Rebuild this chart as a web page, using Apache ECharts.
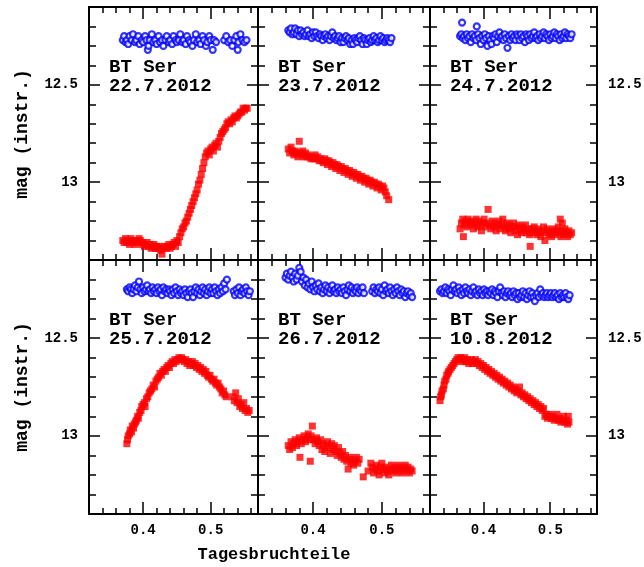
<!DOCTYPE html>
<html>
<head>
<meta charset="utf-8">
<script src="https://cdn.jsdelivr.net/npm/echarts@6/dist/echarts.min.js"></script>
<style>
html, body { margin: 0; padding: 0; background: #fff; }
#main { width: 644px; height: 567px; }
</style>
</head>
<body>
<div id="main"></div>
<script>
// Nächte
const dates = ['22.7.2012', '23.7.2012', '24.7.2012', '25.7.2012', '26.7.2012', '10.8.2012'];

// Achsen
const xRange = [0.32, 0.57];
const yRange = [12.1, 13.4];
const xMajor = [0.4, 0.5];
const xMinor = [0.34, 0.36, 0.38, 0.42, 0.44, 0.46, 0.48, 0.52, 0.54, 0.56];
const yMajor = [12.5, 13];
const yMinor = [12.2, 12.3, 12.4, 12.6, 12.7, 12.8, 12.9, 13.1, 13.2, 13.3];

// Vergleichsstern (blau) und BT Ser (rot): [Tagesbruchteil, mag]
const blue1 = [[0.370,12.27],[0.372,12.25],[0.374,12.28],[0.376,12.27],[0.378,12.29],[0.380,12.25],[0.383,12.27],[0.385,12.24],[0.388,12.28],[0.390,12.27],[0.393,12.25],[0.395,12.29],[0.398,12.27],[0.400,12.28],[0.403,12.25],[0.405,12.27],[0.407,12.32],[0.408,12.30],[0.410,12.27],[0.413,12.24],[0.415,12.28],[0.418,12.27],[0.420,12.29],[0.423,12.25],[0.425,12.28],[0.428,12.27],[0.430,12.30],[0.433,12.27],[0.435,12.25],[0.438,12.28],[0.440,12.27],[0.443,12.29],[0.445,12.25],[0.448,12.27],[0.450,12.28],[0.453,12.27],[0.455,12.24],[0.458,12.28],[0.460,12.27],[0.463,12.29],[0.465,12.25],[0.468,12.27],[0.470,12.28],[0.473,12.30],[0.475,12.27],[0.478,12.24],[0.480,12.28],[0.483,12.27],[0.485,12.29],[0.488,12.25],[0.490,12.27],[0.493,12.30],[0.495,12.28],[0.498,12.25],[0.500,12.27],[0.503,12.32],[0.505,12.27],[0.508,12.28],[0.520,12.27],[0.523,12.25],[0.526,12.28],[0.529,12.27],[0.532,12.30],[0.535,12.27],[0.538,12.25],[0.540,12.32],[0.541,12.28],[0.544,12.24],[0.547,12.27],[0.550,12.28],[0.553,12.27]];
const red1 = [[0.370,13.30],[0.372,13.31],[0.374,13.29],[0.376,13.31],[0.378,13.30],[0.380,13.32],[0.382,13.29],[0.384,13.31],[0.386,13.30],[0.388,13.32],[0.390,13.30],[0.392,13.31],[0.394,13.29],[0.396,13.30],[0.398,13.32],[0.400,13.31],[0.402,13.33],[0.404,13.32],[0.406,13.31],[0.408,13.33],[0.410,13.32],[0.412,13.34],[0.414,13.33],[0.416,13.32],[0.418,13.34],[0.420,13.33],[0.422,13.34],[0.424,13.33],[0.426,13.35],[0.428,13.37],[0.430,13.34],[0.432,13.33],[0.434,13.34],[0.436,13.33],[0.438,13.32],[0.440,13.34],[0.442,13.33],[0.444,13.32],[0.446,13.31],[0.448,13.33],[0.450,13.30],[0.452,13.31],[0.454,13.28],[0.456,13.26],[0.458,13.24],[0.460,13.23],[0.462,13.21],[0.464,13.20],[0.466,13.18],[0.468,13.16],[0.470,13.14],[0.472,13.12],[0.474,13.10],[0.476,13.08],[0.478,13.06],[0.480,13.04],[0.482,13.01],[0.484,12.99],[0.486,12.96],[0.488,12.93],[0.490,12.90],[0.492,12.87],[0.494,12.85],[0.496,12.84],[0.498,12.86],[0.500,12.83],[0.502,12.82],[0.504,12.84],[0.506,12.81],[0.508,12.80],[0.510,12.82],[0.512,12.79],[0.514,12.77],[0.516,12.75],[0.518,12.74],[0.520,12.73],[0.522,12.72],[0.524,12.70],[0.526,12.69],[0.528,12.70],[0.530,12.68],[0.532,12.69],[0.534,12.67],[0.536,12.66],[0.538,12.67],[0.540,12.66],[0.542,12.65],[0.544,12.64],[0.546,12.64],[0.548,12.62],[0.550,12.63],[0.552,12.62],[0.554,12.62]];

const blue2 = [[0.364,12.22],[0.366,12.23],[0.368,12.21],[0.370,12.24],[0.372,12.23],[0.374,12.21],[0.376,12.24],[0.378,12.22],[0.380,12.25],[0.382,12.22],[0.384,12.24],[0.386,12.23],[0.388,12.25],[0.390,12.24],[0.392,12.22],[0.394,12.25],[0.396,12.24],[0.398,12.26],[0.400,12.23],[0.402,12.25],[0.404,12.23],[0.406,12.25],[0.408,12.26],[0.410,12.24],[0.412,12.25],[0.414,12.27],[0.416,12.25],[0.418,12.24],[0.420,12.26],[0.422,12.25],[0.424,12.27],[0.426,12.25],[0.428,12.23],[0.430,12.26],[0.432,12.25],[0.434,12.27],[0.436,12.26],[0.438,12.25],[0.440,12.28],[0.442,12.26],[0.444,12.28],[0.446,12.26],[0.448,12.25],[0.450,12.27],[0.452,12.26],[0.454,12.29],[0.456,12.27],[0.458,12.29],[0.460,12.26],[0.462,12.27],[0.464,12.28],[0.466,12.26],[0.468,12.25],[0.470,12.27],[0.472,12.29],[0.474,12.26],[0.476,12.27],[0.478,12.29],[0.480,12.27],[0.482,12.26],[0.484,12.28],[0.486,12.27],[0.488,12.25],[0.490,12.27],[0.492,12.26],[0.494,12.28],[0.496,12.27],[0.498,12.25],[0.500,12.27],[0.502,12.26],[0.504,12.28],[0.506,12.27],[0.508,12.26],[0.510,12.27],[0.512,12.28],[0.514,12.26]];
const red2 = [[0.364,12.83],[0.366,12.85],[0.368,12.82],[0.370,12.84],[0.372,12.86],[0.374,12.84],[0.376,12.85],[0.378,12.87],[0.380,12.79],[0.381,12.85],[0.383,12.86],[0.385,12.84],[0.387,12.87],[0.389,12.85],[0.391,12.87],[0.393,12.86],[0.395,12.87],[0.397,12.88],[0.399,12.87],[0.401,12.88],[0.403,12.86],[0.405,12.88],[0.407,12.87],[0.409,12.89],[0.411,12.88],[0.413,12.89],[0.415,12.90],[0.417,12.88],[0.419,12.89],[0.421,12.91],[0.423,12.89],[0.425,12.90],[0.427,12.92],[0.429,12.90],[0.431,12.91],[0.433,12.93],[0.435,12.91],[0.437,12.92],[0.439,12.94],[0.441,12.92],[0.443,12.93],[0.445,12.95],[0.447,12.93],[0.449,12.94],[0.451,12.96],[0.453,12.94],[0.455,12.95],[0.457,12.97],[0.459,12.95],[0.461,12.96],[0.463,12.98],[0.465,12.96],[0.467,12.97],[0.469,12.99],[0.471,12.97],[0.473,12.98],[0.475,13.00],[0.477,12.98],[0.479,12.99],[0.481,13.01],[0.483,12.99],[0.485,13.00],[0.487,13.02],[0.489,13.00],[0.491,13.01],[0.493,13.03],[0.495,13.01],[0.497,13.02],[0.499,13.04],[0.501,13.02],[0.503,13.03],[0.505,13.05],[0.507,13.07],[0.510,13.09]];

const blue3 = [[0.368,12.18],[0.390,12.20],[0.365,12.25],[0.367,12.24],[0.369,12.26],[0.371,12.25],[0.373,12.27],[0.375,12.24],[0.377,12.26],[0.379,12.25],[0.381,12.28],[0.383,12.24],[0.385,12.26],[0.387,12.25],[0.389,12.27],[0.392,12.24],[0.394,12.26],[0.396,12.29],[0.398,12.25],[0.400,12.27],[0.402,12.24],[0.404,12.26],[0.406,12.30],[0.408,12.25],[0.410,12.27],[0.412,12.29],[0.414,12.25],[0.416,12.26],[0.418,12.24],[0.420,12.28],[0.422,12.25],[0.424,12.23],[0.426,12.26],[0.428,12.25],[0.430,12.27],[0.432,12.24],[0.434,12.26],[0.436,12.31],[0.438,12.25],[0.440,12.27],[0.442,12.24],[0.444,12.26],[0.446,12.25],[0.448,12.27],[0.450,12.24],[0.452,12.25],[0.454,12.27],[0.456,12.24],[0.458,12.26],[0.460,12.25],[0.462,12.28],[0.464,12.24],[0.466,12.25],[0.468,12.27],[0.470,12.24],[0.472,12.26],[0.474,12.25],[0.476,12.23],[0.478,12.26],[0.480,12.25],[0.482,12.27],[0.484,12.24],[0.486,12.26],[0.488,12.25],[0.490,12.23],[0.492,12.26],[0.494,12.24],[0.496,12.25],[0.498,12.27],[0.500,12.24],[0.502,12.26],[0.504,12.25],[0.506,12.23],[0.508,12.26],[0.510,12.24],[0.512,12.25],[0.514,12.27],[0.516,12.24],[0.518,12.26],[0.520,12.25],[0.522,12.23],[0.524,12.26],[0.526,12.24],[0.528,12.25],[0.530,12.26],[0.532,12.24]];
const red3 = [[0.365,13.24],[0.367,13.21],[0.369,13.19],[0.370,13.28],[0.371,13.22],[0.373,13.20],[0.375,13.23],[0.377,13.19],[0.379,13.21],[0.381,13.22],[0.383,13.20],[0.385,13.24],[0.387,13.21],[0.389,13.19],[0.391,13.23],[0.393,13.20],[0.395,13.22],[0.397,13.25],[0.399,13.21],[0.401,13.19],[0.403,13.23],[0.405,13.21],[0.407,13.14],[0.409,13.22],[0.411,13.24],[0.413,13.20],[0.415,13.23],[0.417,13.21],[0.419,13.25],[0.421,13.22],[0.423,13.20],[0.425,13.24],[0.427,13.22],[0.429,13.19],[0.431,13.23],[0.433,13.25],[0.435,13.21],[0.437,13.24],[0.439,13.22],[0.441,13.26],[0.443,13.23],[0.445,13.21],[0.447,13.25],[0.449,13.23],[0.451,13.27],[0.453,13.22],[0.455,13.24],[0.457,13.26],[0.459,13.23],[0.461,13.25],[0.463,13.22],[0.465,13.26],[0.467,13.24],[0.469,13.27],[0.470,13.33],[0.472,13.24],[0.474,13.26],[0.476,13.23],[0.478,13.25],[0.480,13.27],[0.482,13.24],[0.484,13.26],[0.486,13.28],[0.488,13.25],[0.490,13.23],[0.492,13.30],[0.494,13.26],[0.496,13.24],[0.498,13.27],[0.500,13.25],[0.502,13.28],[0.504,13.26],[0.506,13.24],[0.508,13.27],[0.510,13.25],[0.512,13.23],[0.514,13.26],[0.516,13.28],[0.518,13.25],[0.520,13.27],[0.522,13.24],[0.524,13.26],[0.526,13.28],[0.528,13.25],[0.530,13.27],[0.532,13.26],[0.515,13.19],[0.518,13.21]];

const blue4 = [[0.376,12.25],[0.378,12.26],[0.380,12.24],[0.382,12.25],[0.384,12.27],[0.386,12.25],[0.388,12.23],[0.390,12.26],[0.392,12.24],[0.394,12.21],[0.396,12.25],[0.398,12.27],[0.400,12.24],[0.402,12.26],[0.404,12.25],[0.406,12.23],[0.408,12.26],[0.410,12.25],[0.412,12.27],[0.414,12.24],[0.416,12.26],[0.418,12.25],[0.420,12.27],[0.422,12.24],[0.424,12.26],[0.426,12.25],[0.428,12.28],[0.430,12.24],[0.432,12.26],[0.434,12.25],[0.436,12.27],[0.438,12.25],[0.440,12.26],[0.442,12.28],[0.444,12.25],[0.446,12.27],[0.448,12.24],[0.450,12.26],[0.452,12.28],[0.454,12.25],[0.456,12.27],[0.458,12.26],[0.460,12.28],[0.462,12.25],[0.464,12.27],[0.466,12.29],[0.468,12.26],[0.470,12.25],[0.472,12.27],[0.474,12.29],[0.476,12.26],[0.478,12.24],[0.480,12.27],[0.482,12.25],[0.484,12.28],[0.486,12.26],[0.488,12.24],[0.490,12.27],[0.492,12.25],[0.494,12.28],[0.496,12.26],[0.498,12.24],[0.500,12.27],[0.502,12.25],[0.504,12.27],[0.506,12.24],[0.508,12.26],[0.510,12.28],[0.512,12.25],[0.514,12.27],[0.516,12.24],[0.518,12.26],[0.520,12.22],[0.522,12.25],[0.524,12.20],[0.534,12.26],[0.536,12.28],[0.538,12.25],[0.540,12.27],[0.542,12.24],[0.544,12.28],[0.546,12.26],[0.548,12.25],[0.550,12.27],[0.552,12.24],[0.554,12.26],[0.556,12.28],[0.558,12.26]];
const red4 = [[0.376,13.04],[0.377,13.02],[0.378,13.00],[0.380,12.99],[0.381,12.97],[0.383,12.98],[0.384,12.95],[0.386,12.96],[0.387,12.94],[0.389,12.93],[0.390,12.92],[0.392,12.90],[0.393,12.91],[0.395,12.88],[0.397,12.87],[0.398,12.85],[0.400,12.84],[0.402,12.83],[0.403,12.85],[0.405,12.81],[0.407,12.80],[0.409,12.78],[0.411,12.77],[0.413,12.76],[0.415,12.74],[0.417,12.75],[0.419,12.72],[0.421,12.71],[0.423,12.70],[0.425,12.68],[0.427,12.69],[0.429,12.67],[0.431,12.66],[0.433,12.67],[0.435,12.65],[0.437,12.64],[0.439,12.65],[0.441,12.63],[0.443,12.62],[0.445,12.63],[0.447,12.61],[0.449,12.62],[0.451,12.61],[0.453,12.60],[0.455,12.61],[0.457,12.60],[0.459,12.61],[0.461,12.62],[0.463,12.61],[0.465,12.63],[0.467,12.62],[0.469,12.64],[0.471,12.63],[0.473,12.62],[0.475,12.64],[0.477,12.63],[0.479,12.65],[0.481,12.64],[0.483,12.66],[0.485,12.65],[0.487,12.67],[0.489,12.66],[0.491,12.68],[0.493,12.67],[0.495,12.69],[0.497,12.70],[0.499,12.69],[0.501,12.71],[0.503,12.72],[0.505,12.71],[0.507,12.73],[0.509,12.74],[0.511,12.73],[0.513,12.75],[0.515,12.76],[0.517,12.78],[0.519,12.77],[0.521,12.79],[0.523,12.80],[0.533,12.80],[0.535,12.82],[0.537,12.78],[0.539,12.83],[0.541,12.81],[0.543,12.85],[0.545,12.84],[0.547,12.86],[0.549,12.83],[0.551,12.87],[0.553,12.86],[0.555,12.88],[0.557,12.87]];

const blue5 = [[0.360,12.19],[0.362,12.17],[0.364,12.20],[0.366,12.18],[0.368,12.16],[0.370,12.19],[0.372,12.21],[0.374,12.17],[0.376,12.20],[0.378,12.18],[0.380,12.14],[0.382,12.16],[0.384,12.21],[0.386,12.19],[0.388,12.23],[0.390,12.20],[0.392,12.24],[0.394,12.22],[0.396,12.25],[0.398,12.21],[0.400,12.24],[0.402,12.26],[0.404,12.23],[0.406,12.25],[0.408,12.22],[0.410,12.26],[0.412,12.24],[0.414,12.27],[0.416,12.25],[0.418,12.23],[0.420,12.26],[0.422,12.24],[0.424,12.27],[0.426,12.25],[0.428,12.23],[0.430,12.26],[0.432,12.25],[0.434,12.27],[0.436,12.24],[0.438,12.26],[0.440,12.25],[0.442,12.27],[0.444,12.24],[0.446,12.26],[0.448,12.28],[0.450,12.25],[0.452,12.23],[0.454,12.26],[0.456,12.24],[0.458,12.27],[0.460,12.25],[0.462,12.26],[0.464,12.24],[0.466,12.27],[0.468,12.25],[0.470,12.26],[0.472,12.24],[0.474,12.27],[0.486,12.26],[0.488,12.24],[0.490,12.27],[0.492,12.25],[0.494,12.26],[0.496,12.24],[0.498,12.27],[0.500,12.25],[0.502,12.28],[0.504,12.23],[0.506,12.26],[0.508,12.25],[0.510,12.27],[0.512,12.24],[0.514,12.26],[0.516,12.28],[0.518,12.25],[0.520,12.27],[0.522,12.24],[0.524,12.26],[0.526,12.28],[0.528,12.25],[0.530,12.27],[0.532,12.26],[0.534,12.29],[0.536,12.27],[0.538,12.26],[0.540,12.28],[0.542,12.27],[0.544,12.29]];
const red5 = [[0.364,13.05],[0.366,13.07],[0.368,13.03],[0.370,13.06],[0.372,13.04],[0.374,13.02],[0.376,13.05],[0.378,13.03],[0.380,13.01],[0.381,13.11],[0.383,13.04],[0.385,13.02],[0.387,13.00],[0.389,13.03],[0.391,13.01],[0.393,12.99],[0.395,13.02],[0.396,13.13],[0.397,13.00],[0.399,12.95],[0.401,13.02],[0.403,13.04],[0.405,13.01],[0.407,13.03],[0.409,13.05],[0.411,13.02],[0.413,13.07],[0.415,13.04],[0.417,13.08],[0.419,13.05],[0.421,13.03],[0.423,13.06],[0.425,13.09],[0.427,13.04],[0.429,13.07],[0.431,13.05],[0.433,13.08],[0.435,13.10],[0.437,13.06],[0.439,13.09],[0.441,13.11],[0.443,13.08],[0.445,13.12],[0.447,13.10],[0.449,13.13],[0.451,13.17],[0.453,13.11],[0.455,13.14],[0.457,13.12],[0.459,13.15],[0.461,13.13],[0.463,13.11],[0.465,13.14],[0.467,13.12],[0.473,13.21],[0.480,13.18],[0.484,13.14],[0.486,13.16],[0.488,13.19],[0.490,13.17],[0.492,13.15],[0.494,13.18],[0.496,13.20],[0.498,13.16],[0.500,13.14],[0.502,13.17],[0.504,13.19],[0.506,13.16],[0.508,13.18],[0.510,13.20],[0.512,13.17],[0.514,13.15],[0.516,13.18],[0.518,13.16],[0.520,13.19],[0.522,13.17],[0.524,13.15],[0.526,13.18],[0.528,13.16],[0.530,13.19],[0.532,13.17],[0.534,13.15],[0.536,13.18],[0.538,13.16],[0.540,13.19],[0.542,13.17],[0.544,13.18]];

const blue6 = [[0.335,12.26],[0.337,12.25],[0.339,12.27],[0.341,12.26],[0.343,12.24],[0.345,12.27],[0.347,12.25],[0.349,12.26],[0.351,12.28],[0.353,12.25],[0.355,12.23],[0.357,12.26],[0.359,12.25],[0.361,12.27],[0.363,12.24],[0.365,12.26],[0.367,12.28],[0.369,12.25],[0.371,12.27],[0.373,12.24],[0.375,12.26],[0.377,12.27],[0.379,12.25],[0.381,12.28],[0.383,12.26],[0.385,12.24],[0.387,12.27],[0.389,12.26],[0.391,12.28],[0.393,12.25],[0.395,12.27],[0.397,12.26],[0.399,12.28],[0.401,12.25],[0.403,12.27],[0.405,12.26],[0.407,12.28],[0.409,12.26],[0.411,12.27],[0.413,12.25],[0.415,12.28],[0.417,12.26],[0.419,12.27],[0.421,12.29],[0.423,12.26],[0.425,12.24],[0.427,12.27],[0.429,12.28],[0.431,12.26],[0.433,12.29],[0.435,12.27],[0.437,12.26],[0.439,12.28],[0.441,12.27],[0.443,12.29],[0.445,12.26],[0.447,12.28],[0.449,12.27],[0.451,12.30],[0.453,12.27],[0.455,12.29],[0.457,12.28],[0.459,12.26],[0.461,12.29],[0.463,12.27],[0.465,12.30],[0.467,12.28],[0.469,12.26],[0.471,12.29],[0.473,12.27],[0.475,12.29],[0.477,12.31],[0.479,12.28],[0.481,12.27],[0.483,12.29],[0.485,12.25],[0.487,12.28],[0.489,12.27],[0.491,12.29],[0.493,12.28],[0.495,12.27],[0.497,12.29],[0.499,12.28],[0.501,12.27],[0.503,12.29],[0.505,12.28],[0.507,12.27],[0.509,12.29],[0.511,12.28],[0.513,12.30],[0.515,12.27],[0.517,12.29],[0.519,12.28],[0.521,12.29],[0.523,12.27],[0.525,12.29],[0.527,12.30],[0.529,12.28]];
const red6 = [[0.335,12.82],[0.336,12.80],[0.337,12.79],[0.338,12.77],[0.340,12.76],[0.341,12.74],[0.342,12.72],[0.344,12.71],[0.345,12.69],[0.347,12.68],[0.348,12.67],[0.350,12.66],[0.352,12.65],[0.354,12.64],[0.356,12.63],[0.358,12.62],[0.360,12.61],[0.362,12.60],[0.364,12.61],[0.366,12.60],[0.368,12.62],[0.370,12.61],[0.372,12.60],[0.374,12.62],[0.376,12.61],[0.378,12.63],[0.380,12.62],[0.382,12.61],[0.384,12.63],[0.386,12.62],[0.388,12.61],[0.390,12.63],[0.392,12.62],[0.394,12.64],[0.396,12.63],[0.398,12.65],[0.400,12.64],[0.402,12.66],[0.404,12.65],[0.406,12.67],[0.408,12.66],[0.410,12.68],[0.412,12.67],[0.414,12.69],[0.416,12.68],[0.418,12.70],[0.420,12.69],[0.422,12.71],[0.424,12.70],[0.426,12.72],[0.428,12.71],[0.430,12.73],[0.432,12.72],[0.434,12.74],[0.436,12.73],[0.438,12.75],[0.440,12.74],[0.442,12.76],[0.444,12.75],[0.446,12.77],[0.448,12.76],[0.450,12.78],[0.452,12.77],[0.454,12.75],[0.456,12.79],[0.458,12.78],[0.460,12.80],[0.462,12.79],[0.464,12.81],[0.466,12.80],[0.468,12.82],[0.470,12.81],[0.472,12.83],[0.474,12.82],[0.476,12.84],[0.478,12.83],[0.480,12.85],[0.482,12.84],[0.484,12.86],[0.486,12.85],[0.488,12.87],[0.490,12.86],[0.492,12.90],[0.494,12.89],[0.496,12.91],[0.498,12.90],[0.500,12.89],[0.502,12.91],[0.504,12.90],[0.506,12.92],[0.508,12.91],[0.510,12.89],[0.512,12.92],[0.514,12.91],[0.516,12.93],[0.518,12.92],[0.520,12.90],[0.522,12.93],[0.524,12.92],[0.526,12.94],[0.528,12.93],[0.527,12.90]];

const blueSets = [blue1, blue2, blue3, blue4, blue5, blue6];
const redSets = [red1, red2, red3, red4, red5, red6];

// Panel-Layout (px)
const colLeft = [89, 258, 430];
const colWidth = [169, 172, 167];
const rowTop = [7, 260];
const rowHeight = [253, 254];

const FONT = '"Liberation Mono", "DejaVu Sans Mono", monospace';

let chart = echarts.init(document.getElementById('main'));

let grids = [], xAxes = [], yAxes = [], series = [], graphic = [];

function frameLine() {
    return { show: true, onZero: false, lineStyle: { color: '#000', width: 2 } };
}

//x-Achse (unten/oben, Haupt-/Nebenstriche)
function xAxis(gi, pos, ticks, len, labels) {
    return {
        type: 'value', gridIndex: gi, position: pos,
        min: xRange[0], max: xRange[1],
        axisLine: frameLine(),
        axisTick: { show: true, inside: true, length: len, customValues: ticks, lineStyle: { color: '#000', width: 1.5 } },
        axisLabel: labels ? {
            show: true, customValues: ticks, margin: 9,
            fontFamily: FONT, fontSize: 14, fontWeight: 'bold', color: '#000'
        } : { show: false },
        splitLine: { show: false }
    };
}

//y-Achse (links/rechts), invertiert: Magnituden
function yAxis(gi, pos, ticks, len, labels) {
    return {
        type: 'value', gridIndex: gi, position: pos, inverse: true,
        min: yRange[0], max: yRange[1],
        axisLine: frameLine(),
        axisTick: { show: true, inside: true, length: len, customValues: ticks, lineStyle: { color: '#000', width: 1.5 } },
        axisLabel: labels ? {
            show: true, customValues: ticks, margin: 11,
            fontFamily: FONT, fontSize: 14, fontWeight: 'bold', color: '#000'
        } : { show: false },
        splitLine: { show: false }
    };
}

for (let i = 0; i < 6; i++) {
    let r = Math.floor(i / 3), c = i % 3;
    grids.push({
        left: colLeft[c], top: rowTop[r], width: colWidth[c], height: rowHeight[r],
        containLabel: false, outerBoundsMode: 'none'
    });

    xAxes.push(xAxis(i, 'bottom', xMajor, 12, r === 1));
    xAxes.push(xAxis(i, 'bottom', xMinor, 6, false));
    xAxes.push(xAxis(i, 'top', xMajor, 12, false));
    xAxes.push(xAxis(i, 'top', xMinor, 6, false));

    yAxes.push(yAxis(i, 'left', yMajor, 11, c === 0));
    yAxes.push(yAxis(i, 'left', yMinor, 7, false));
    yAxes.push(yAxis(i, 'right', yMajor, 11, c === 2));
    yAxes.push(yAxis(i, 'right', yMinor, 7, false));

    series.push({
        type: 'scatter', xAxisIndex: 4 * i, yAxisIndex: 4 * i,
        data: redSets[i], symbol: 'rect', symbolSize: 7,
        itemStyle: { color: '#ff0000' }
    });
    series.push({
        type: 'scatter', xAxisIndex: 4 * i, yAxisIndex: 4 * i,
        data: blueSets[i], symbol: 'circle', symbolSize: 6,
        itemStyle: { color: '#ffffff', borderColor: '#0000ff', borderWidth: 2.2 }
    });

    //Beschriftung im Panel
    graphic.push({
        type: 'text', x: colLeft[c] + 20, y: rowTop[r] + 51,
        style: {
            text: 'BT Ser\n' + dates[i], fill: '#000',
            font: 'bold 19px ' + FONT, lineHeight: 19,
            textAlign: 'left', textVerticalAlign: 'top'
        }
    });
}

//Achsentitel
[134, 387].forEach(function (cy) {
    graphic.push({
        type: 'text', x: 22, y: cy, rotation: Math.PI / 2,
        style: {
            text: 'mag (instr.)', fill: '#000', font: 'bold 18px ' + FONT,
            textAlign: 'center', textVerticalAlign: 'middle'
        }
    });
});
graphic.push({
    type: 'text', x: 274, y: 555,
    style: {
        text: 'Tagesbruchteile', fill: '#000', font: 'bold 17px ' + FONT,
        textAlign: 'center', textVerticalAlign: 'middle'
    }
});

chart.setOption({
    animation: false,
    backgroundColor: '#fff',
    grid: grids,
    xAxis: xAxes,
    yAxis: yAxes,
    series: series,
    graphic: graphic
});
</script>
</body>
</html>
